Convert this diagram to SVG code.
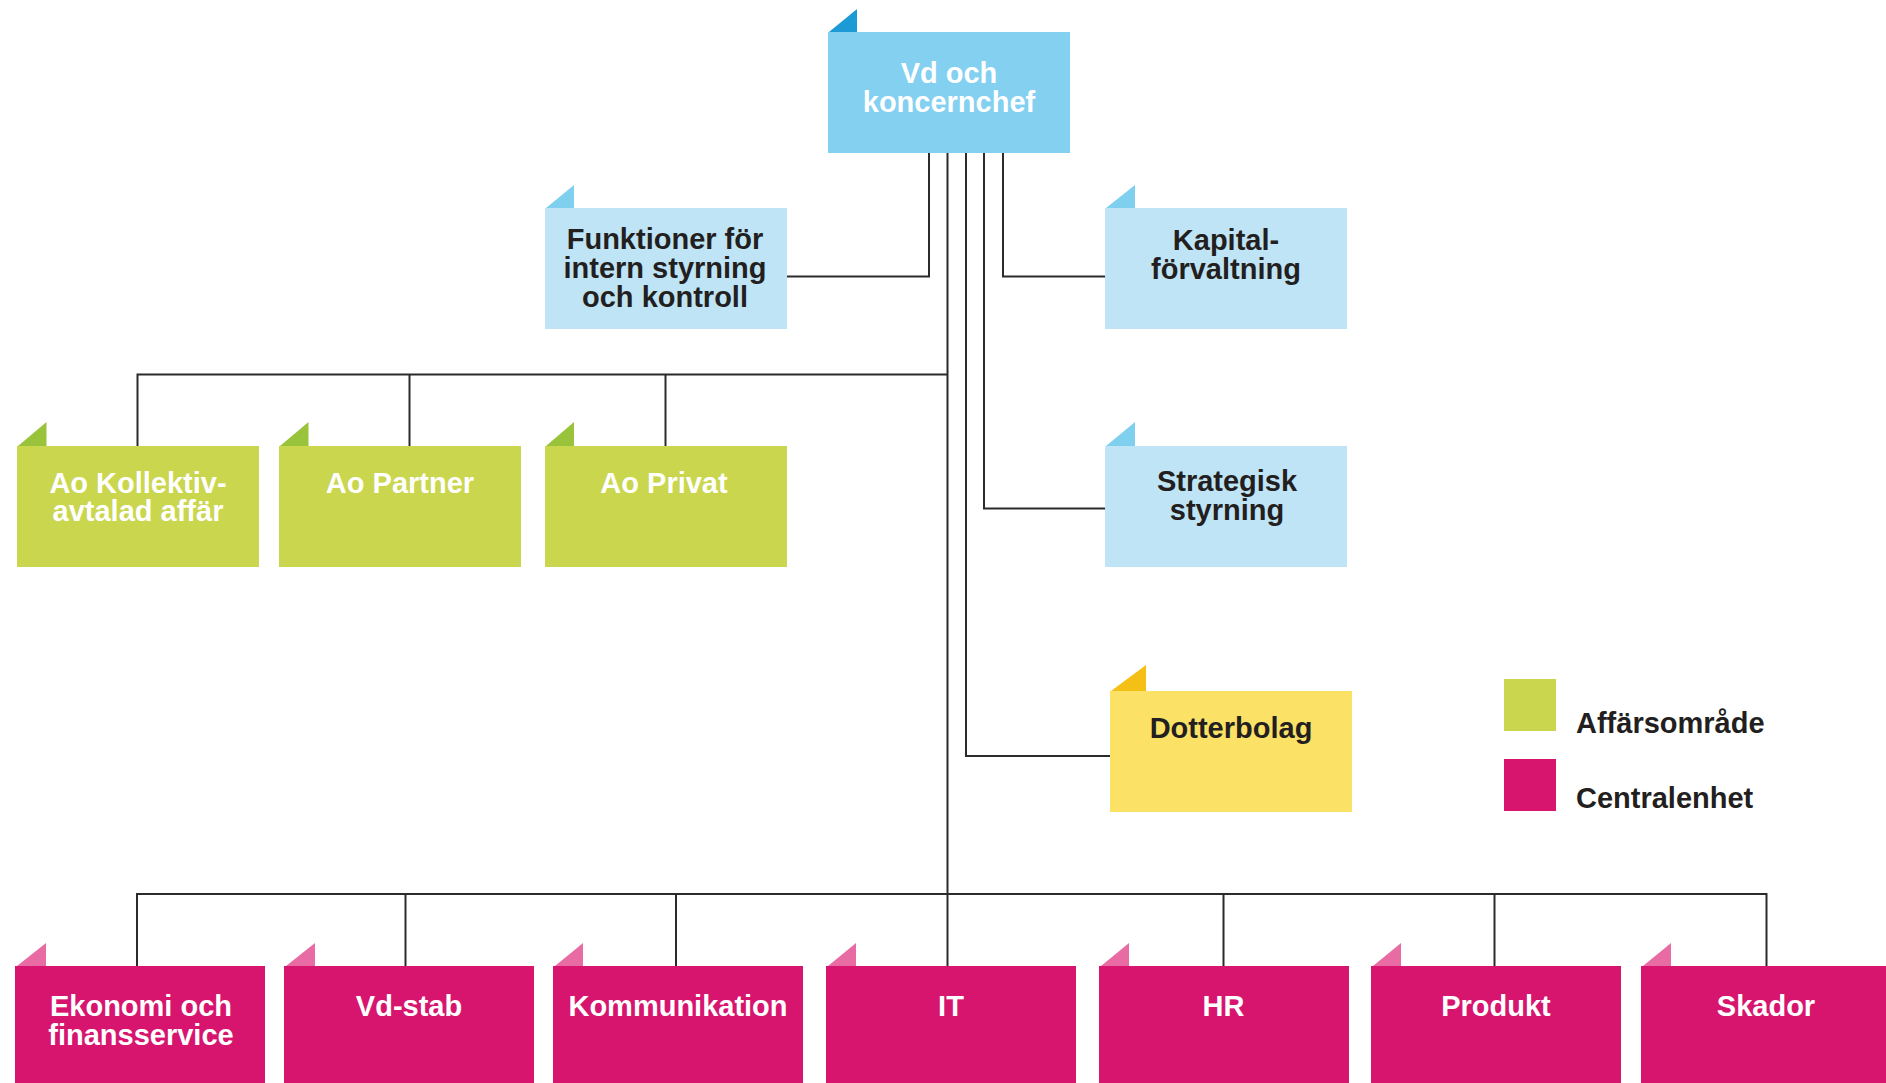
<svg xmlns="http://www.w3.org/2000/svg" width="1886" height="1083" viewBox="0 0 1886 1083">
<style>
.t{font-family:"Liberation Sans",Arial,sans-serif;font-weight:bold;font-size:29px;text-anchor:middle}
.w{fill:#ffffff}
.d{fill:#231f20}
.lg{font-family:"Liberation Sans",Arial,sans-serif;font-weight:bold;font-size:29px;fill:#231f20}
.top{fill:#83d0f0}.topt{fill:#1b9ad6}
.lb{fill:#bfe4f6}.lbt{fill:#7fcfee}
.gr{fill:#c9d64e}.grt{fill:#98c33b}
.ye{fill:#fbe165}.yet{fill:#f5c016}
.mg{fill:#d7156f}.mgt{fill:#e96ba3}
.ln{fill:none;stroke:#2b2b2b;stroke-width:2}
</style>
<rect width="1886" height="1083" fill="#ffffff"/>
<g id="connectors" class="ln">
<path d="M929 153V276.5H787"/>
<path d="M1003 153V276.5H1105"/>
<path d="M984 153V508.5H1105"/>
<path d="M966 153V756H1110"/>
<path d="M947.5 153V894"/>
<path d="M137.5 446V374.5H947.5"/>
<path d="M409.5 374.5V446"/>
<path d="M665.5 374.5V446"/>
<path d="M137 966V894H1766.5V966"/>
<path d="M405.5 894V966"/>
<path d="M676 894V966"/>
<path d="M947.5 894V966"/>
<path d="M1223.5 894V966"/>
<path d="M1494.5 894V966"/>
</g>
<g id="vd">
<polygon class="topt" points="829,32 857,9 857,32"/>
<rect class="top" x="828" y="32" width="242" height="121"/>
<text class="t w" x="949" y="82.5">Vd och</text>
<text class="t w" x="949" y="111.5">koncernchef</text>
</g>
<g id="funktioner">
<polygon class="lbt" points="546,208 574,185 574,208"/>
<rect class="lb" x="545" y="208" width="242" height="121"/>
<text class="t d" x="665" y="249">Funktioner för</text>
<text class="t d" x="665" y="278">intern styrning</text>
<text class="t d" x="665" y="307">och kontroll</text>
</g>
<g id="kapital">
<polygon class="lbt" points="1106,208 1135,185 1135,208"/>
<rect class="lb" x="1105" y="208" width="242" height="121"/>
<text class="t d" x="1226" y="249.5">Kapital-</text>
<text class="t d" x="1226" y="278.5">förvaltning</text>
</g>
<g id="strategisk">
<polygon class="lbt" points="1106,446 1135,422 1135,446"/>
<rect class="lb" x="1105" y="446" width="242" height="121"/>
<text class="t d" x="1227" y="490.5">Strategisk</text>
<text class="t d" x="1227" y="519.5">styrning</text>
</g>
<g id="dotterbolag">
<polygon class="yet" points="1111,691 1146,665 1146,691"/>
<rect class="ye" x="1110" y="691" width="242" height="121"/>
<text class="t d" x="1231" y="738">Dotterbolag</text>
</g>
<g id="ao-kollektiv">
<polygon class="grt" points="18,446 46.5,422 46.5,446"/>
<rect class="gr" x="17" y="446" width="242" height="121"/>
<text class="t w" x="138" y="492.5">Ao Kollektiv-</text>
<text class="t w" x="138" y="521">avtalad affär</text>
</g>
<g id="ao-partner">
<polygon class="grt" points="280,446 308.5,422 308.5,446"/>
<rect class="gr" x="279" y="446" width="242" height="121"/>
<text class="t w" x="400" y="492.5">Ao Partner</text>
</g>
<g id="ao-privat">
<polygon class="grt" points="546,446 574,422 574,446"/>
<rect class="gr" x="545" y="446" width="242" height="121"/>
<text class="t w" x="664" y="492.5">Ao Privat</text>
</g>
<g id="ekonomi">
<polygon class="mgt" points="17,966 46,943 46,966"/>
<rect class="mg" x="15" y="966" width="250" height="121"/>
<text class="t w" x="141" y="1016">Ekonomi och</text>
<text class="t w" x="141" y="1044.5">finansservice</text>
</g>
<g id="vd-stab">
<polygon class="mgt" points="286,966 315,943 315,966"/>
<rect class="mg" x="284" y="966" width="250" height="121"/>
<text class="t w" x="409" y="1016">Vd-stab</text>
</g>
<g id="kommunikation">
<polygon class="mgt" points="555,966 583,943 583,966"/>
<rect class="mg" x="553" y="966" width="250" height="121"/>
<text class="t w" x="678" y="1016">Kommunikation</text>
</g>
<g id="it">
<polygon class="mgt" points="828,966 856,943 856,966"/>
<rect class="mg" x="826" y="966" width="250" height="121"/>
<text class="t w" x="951" y="1016">IT</text>
</g>
<g id="hr">
<polygon class="mgt" points="1101,966 1129,943 1129,966"/>
<rect class="mg" x="1099" y="966" width="250" height="121"/>
<text class="t w" x="1223.5" y="1016">HR</text>
</g>
<g id="produkt">
<polygon class="mgt" points="1373,966 1401,943 1401,966"/>
<rect class="mg" x="1371" y="966" width="250" height="121"/>
<text class="t w" x="1496" y="1016">Produkt</text>
</g>
<g id="skador">
<polygon class="mgt" points="1643,966 1671,943 1671,966"/>
<rect class="mg" x="1641" y="966" width="250" height="121"/>
<text class="t w" x="1766" y="1016">Skador</text>
</g>
<g id="legend">
<rect class="gr" x="1504" y="679" width="52" height="52"/>
<text class="lg" x="1576" y="733">Affärsområde</text>
<rect class="mg" x="1504" y="759" width="52" height="52"/>
<text class="lg" x="1576" y="808">Centralenhet</text>
</g>
</svg>
